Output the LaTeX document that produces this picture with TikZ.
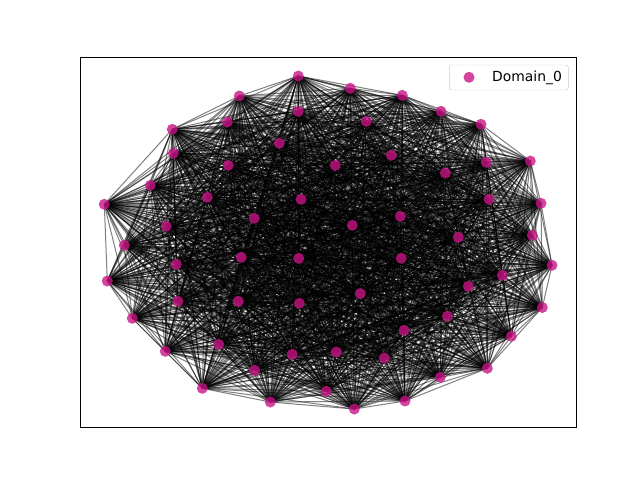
\documentclass[tikz,border=0pt]{standalone}
\usepackage{fontspec}
\setmainfont{DejaVu Sans}
\definecolor{mvr}{RGB}{199,21,133}
\pgfdeclarelayer{bg}
\pgfsetlayers{bg,main}
\tikzset{
  dot/.style={circle,fill=mvr,fill opacity=0.8,draw=none,minimum size=11pt,inner sep=0pt},
  edge/.style={draw=black,draw opacity=0.5,line width=1pt},
  frame/.style={draw=black,line width=0.8pt}
}
\begin{document}
\begin{tikzpicture}[x=1pt,y=-1pt]
\useasboundingbox (0,0) rectangle (640,480);
\foreach \i/\x/\y in {
1/298.3/76, 2/350.3/88.3, 3/402.3/95.3, 4/441/111.3, 5/481/124.3, 6/530.3/161,
7/541/203.3, 8/532.3/235.3, 9/552/265.3, 10/542.3/307.5, 11/511.3/336.3, 12/487.3/368.3,
13/440.3/377.3, 14/405/401, 15/354.3/409, 16/326.3/391.3, 17/270.3/402, 18/202.3/388.3,
19/165.3/351.3, 20/132.3/318.3, 21/107.3/281, 22/124.3/245.3, 23/104.3/204.3, 24/150.3/185.3,
25/172.3/129.3, 26/239.3/96,
27/298.3/111.3, 28/227.3/122, 29/173.3/153.3, 30/279.3/143.3, 31/366.3/121.3, 32/391.3/155.3,
33/335.3/165.3, 34/228.3/165.3, 35/207.3/197.3, 36/301/199.3, 37/254.3/218.3, 38/166.3/226.3,
39/176.3/264.3, 40/241.3/257.3, 41/298.7/258.3, 42/352.3/225.3, 43/400.3/216.3, 44/401.3/258.3,
45/445.3/173, 46/486.3/162.3, 47/489/199.3, 48/458.3/237.3, 49/502.3/275.3, 50/468.3/286.3,
51/447.3/316.3, 52/404/330.3, 53/384.3/358, 54/336.3/352, 55/292.3/354.3, 56/254.7/370.3,
57/218.7/344.3, 58/178/301.3, 59/238.3/301.3, 60/299.3/303.3, 61/360.3/293.5}
  \node[dot] (n\i) at (\x,\y) {};
\begin{pgfonlayer}{bg}
\foreach \i in {1,...,61}{
  \foreach \j in {1,...,61}{
    \ifnum\j>\i
      \draw[edge] (n\i.center) -- (n\j.center);
    \fi
  }
}
\end{pgfonlayer}
\draw[frame] (80,57.6) rectangle (576,427.2);
\node[draw=black!20,fill=white,fill opacity=0.8,text opacity=1,rounded corners=2.5pt,minimum width=119pt,minimum height=25pt,inner sep=0pt] (leg) at (508.8,77.5) {};
\node[dot] (legdot) at (469,77.3) {};
\node[anchor=west,inner sep=0pt,font=\fontsize{13.9}{16}\selectfont] (legtext) at (492,77.5) {Domain\_0};
\end{tikzpicture}
\end{document}
